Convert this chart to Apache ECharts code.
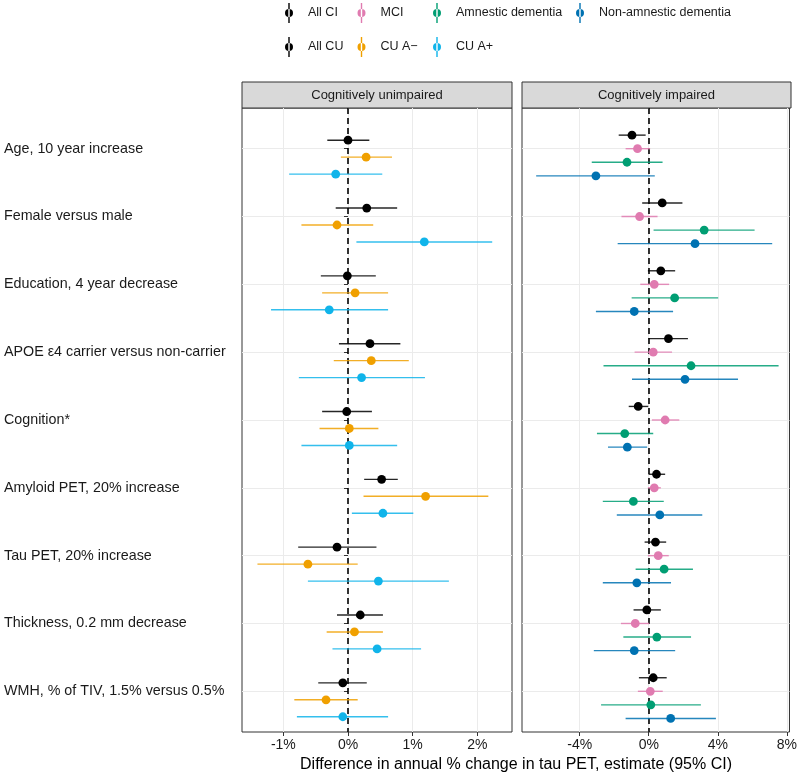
<!DOCTYPE html>
<html><head><meta charset="utf-8">
<script src="https://cdn.jsdelivr.net/npm/echarts@6/dist/echarts.min.js"></script>
<style>html,body{margin:0;padding:0;background:#fff}#c{width:800px;height:776px}</style>
</head><body><div id="c"></div>
<script>
const categories = ["Age, 10 year increase","Female versus male","Education, 4 year decrease","APOE \u03b54 carrier versus non-carrier","Cognition*","Amyloid PET, 20% increase","Tau PET, 20% increase","Thickness, 0.2 mm decrease","WMH, % of TIV, 1.5% versus 0.5%"];
const leftTicks = [-1, 0, 1, 2];
const rightTicks = [-4, 0, 4, 8];

// Cognitively unimpaired
const allCU_est = [0.00, 0.29, -0.01, 0.34, -0.02, 0.52, -0.17, 0.19, -0.08];
const allCU_lo  = [-0.32, -0.19, -0.42, -0.14, -0.40, 0.25, -0.77, -0.17, -0.46];
const allCU_hi  = [0.33, 0.76, 0.43, 0.81, 0.37, 0.77, 0.44, 0.54, 0.29];
const cuAneg_est = [0.28, -0.17, 0.11, 0.36, 0.02, 1.20, -0.62, 0.10, -0.34];
const cuAneg_lo  = [-0.11, -0.72, -0.40, -0.22, -0.44, 0.24, -1.40, -0.33, -0.83];
const cuAneg_hi  = [0.68, 0.39, 0.62, 0.94, 0.47, 2.17, 0.15, 0.54, 0.15];
const cuApos_est = [-0.19, 1.18, -0.29, 0.21, 0.02, 0.54, 0.47, 0.45, -0.08];
const cuApos_lo  = [-0.91, 0.13, -1.19, -0.76, -0.72, 0.06, -0.62, -0.24, -0.79];
const cuApos_hi  = [0.53, 2.23, 0.62, 1.19, 0.76, 1.01, 1.56, 1.13, 0.62];

// Cognitively impaired
const allCI_est = [-0.97, 0.78, 0.70, 1.14, -0.61, 0.45, 0.39, -0.11, 0.26];
const allCI_lo  = [-1.74, -0.38, -0.05, -0.01, -1.16, -0.01, -0.24, -0.88, -0.57];
const allCI_hi  = [-0.18, 1.95, 1.53, 2.27, -0.03, 0.95, 1.01, 0.70, 1.04];
const mci_est = [-0.65, -0.53, 0.32, 0.26, 0.95, 0.32, 0.55, -0.78, 0.09];
const mci_lo  = [-1.34, -1.58, -0.49, -0.82, 0.18, -0.05, -0.05, -1.61, -0.63];
const mci_hi  = [0.08, 0.51, 1.18, 1.35, 1.77, 0.70, 1.16, 0.03, 0.81];
const amn_est = [-1.26, 3.21, 1.50, 2.45, -1.39, -0.89, 0.89, 0.47, 0.12];
const amn_lo  = [-3.30, 0.28, -0.99, -2.62, -3.00, -2.66, -0.76, -1.47, -2.76];
const amn_hi  = [0.80, 6.13, 4.02, 7.52, 0.26, 0.87, 2.56, 2.45, 3.02];
const nonAmn_est = [-3.06, 2.68, -0.84, 2.10, -1.24, 0.64, -0.69, -0.84, 1.27];
const nonAmn_lo  = [-6.52, -1.80, -3.06, -0.97, -2.36, -1.85, -2.66, -3.18, -1.34];
const nonAmn_hi  = [0.35, 7.15, 1.41, 5.17, -0.09, 3.10, 1.29, 1.53, 3.89];

const FONT = '"Liberation Sans", Arial, sans-serif';
const TXT = '#1a1a1a';

function rows(est, lo, hi) { return est.map((v, i) => [v, lo[i], hi[i], i]); }

function makeSeries(name, color, grid, est, lo, hi, offset) {
  return {
    name: name, type: 'custom', xAxisIndex: grid, yAxisIndex: grid,
    itemStyle: { color: color },
    encode: { x: [0, 1, 2], y: 3 },
    data: rows(est, lo, hi),
    z: 5,
    renderItem: function (params, api) {
      const y = api.value(3) + 1 + offset;
      const p = api.coord([api.value(0), y]);
      const a = api.coord([api.value(1), y]);
      const b = api.coord([api.value(2), y]);
      return { type: 'group', children: [
        { type: 'line', shape: { x1: a[0], y1: a[1], x2: b[0], y2: b[1] }, style: { stroke: color, lineWidth: 1.4, opacity: 0.85 } },
        { type: 'circle', shape: { cx: p[0], cy: p[1], r: 4.4 }, style: { fill: color } }
      ]};
    }
  };
}

const zeroLine = (grid) => ({
  type: 'custom', xAxisIndex: grid, yAxisIndex: grid, data: [], silent: true,
  renderItem: function () { return null; },
  markLine: { silent: true, symbol: 'none', label: { show: false },
    lineStyle: { color: '#000', type: [6, 4], width: 1.6 }, data: [{ xAxis: 0 }] }, z: 3
});

const legendDefs = [
  { name: 'All CI', x: 289, y: 13 }, { name: 'MCI', x: 361.5, y: 13 },
  { name: 'Amnestic dementia', x: 437, y: 13 }, { name: 'Non-amnestic dementia', x: 580, y: 13 },
  { name: 'All CU', x: 289, y: 47 }, { name: 'CU A\u2212', x: 361.5, y: 47 }, { name: 'CU A+', x: 437, y: 47 }
];
const ICON = 'path://M3.3,0 L4.7,0 L4.7,20 L3.3,20 Z M0,10 A4,4 0 1,0 8,10 A4,4 0 1,0 0,10 Z';

function yAxis(grid, showLabels) {
  return {
    type: 'value', gridIndex: grid, min: 0.4, max: 9.6, inverse: true,
    axisLine: { show: false },
    axisTick: { show: showLabels, length: 4, lineStyle: { color: '#333' }, customValues: [1,2,3,4,5,6,7,8,9] },
    axisLabel: { show: showLabels, customValues: [1,2,3,4,5,6,7,8,9], align: 'left', margin: 238,
      fontFamily: FONT, fontSize: 14.3, color: TXT, formatter: v => categories[Math.round(v) - 1] || '' },
    splitLine: { show: true, lineStyle: { color: '#ebebeb', width: 1 } }
  };
}
function xAxis(grid, min, max, ticks) {
  return {
    type: 'value', gridIndex: grid, min: min, max: max,
    axisLine: { show: false },
    axisTick: { show: true, length: 4, lineStyle: { color: '#333' }, customValues: ticks },
    axisLabel: { customValues: ticks, margin: 6, fontFamily: FONT, fontSize: 14, color: TXT, formatter: v => v + '%' },
    splitLine: { show: true, lineStyle: { color: '#ebebeb', width: 1 } }
  };
}

const option = {
  animation: false,
  backgroundColor: '#fff',
  grid: [
    { left: 242, top: 108, width: 270, height: 624, show: true, borderColor: '#333', borderWidth: 1, backgroundColor: '#fff' },
    { left: 522, top: 108, width: 269, height: 624, show: true, borderColor: '#333', borderWidth: 1, backgroundColor: '#fff' }
  ],
  xAxis: [ xAxis(0, -1.639, 2.536, leftTicks), xAxis(1, -7.34, 8.15, rightTicks) ],
  yAxis: [ yAxis(0, true), yAxis(1, false) ],
  legend: legendDefs.map(d => ({
    data: [{ name: d.name, icon: ICON }], left: d.x - 4, top: d.y - 10, padding: 0,
    itemWidth: 8, itemHeight: 20, selectedMode: false,
    textStyle: { fontFamily: FONT, fontSize: 12.5, color: TXT, padding: [0, 0, 0, 10] }
  })),
  graphic: [
    { type: 'rect', shape: { x: 242, y: 82, width: 270, height: 26 }, style: { fill: '#d9d9d9', stroke: '#333', lineWidth: 1 } },
    { type: 'text', x: 377, y: 95, style: { text: 'Cognitively unimpaired', font: '13px ' + FONT, fill: TXT, textAlign: 'center', textVerticalAlign: 'middle' } },
    { type: 'rect', shape: { x: 522, y: 82, width: 269, height: 26 }, style: { fill: '#d9d9d9', stroke: '#333', lineWidth: 1 } },
    { type: 'text', x: 656.5, y: 95, style: { text: 'Cognitively impaired', font: '13px ' + FONT, fill: TXT, textAlign: 'center', textVerticalAlign: 'middle' } },
    { type: 'text', x: 516, y: 765, style: { text: 'Difference in annual % change in tau PET, estimate (95% CI)', font: '16px ' + FONT, fill: '#000', textAlign: 'center', textVerticalAlign: 'middle' } }
  ],
  series: [
    zeroLine(0), zeroLine(1),
    makeSeries('All CU', '#000000', 0, allCU_est, allCU_lo, allCU_hi, -0.125),
    makeSeries('CU A\u2212', '#F0A000', 0, cuAneg_est, cuAneg_lo, cuAneg_hi, 0.125),
    makeSeries('CU A+', '#10B4EA', 0, cuApos_est, cuApos_lo, cuApos_hi, 0.375),
    makeSeries('All CI', '#000000', 1, allCI_est, allCI_lo, allCI_hi, -0.2),
    makeSeries('MCI', '#E07BB0', 1, mci_est, mci_lo, mci_hi, 0),
    makeSeries('Amnestic dementia', '#009E73', 1, amn_est, amn_lo, amn_hi, 0.2),
    makeSeries('Non-amnestic dementia', '#0072B2', 1, nonAmn_est, nonAmn_lo, nonAmn_hi, 0.4)
  ]
};
const chart = echarts.init(document.getElementById('c'), null, { renderer: 'canvas' });
chart.setOption(option);
</script></body></html>
